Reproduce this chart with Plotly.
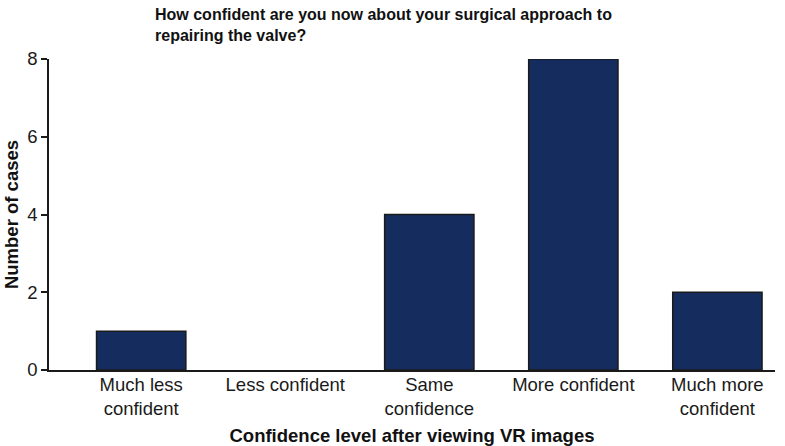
import plotly.graph_objects as go

categories = ["Much less<br>confident", "Less confident", "Same<br>confidence", "More confident", "Much more<br>confident"]
cases = [1, 0, 4, 8, 2]
y_ticks = [0, 2, 4, 6, 8]

fig = go.Figure(go.Bar(
    x=categories, y=cases,
    marker=dict(color="#142d5e",
                line=dict(color="#1a1a1a", width=[0 if v == 0 else 1.5 for v in cases])),
    width=0.62,
))

font = "Liberation Sans, Arial, Helvetica, sans-serif"
fig.update_layout(
    width=785, height=446,
    margin=dict(l=49, r=10, t=59, b=76),
    plot_bgcolor="white", paper_bgcolor="white",
    showlegend=False,
    font=dict(family=font, size=18.5, color="#1a1a1a"),
    annotations=[
        dict(text="<b>How confident are you now about your surgical approach to<br>repairing the valve?</b>",
             x=(153 - 49) / 726, xref="paper", xanchor="left", align="left",
             y=(370 - 4) / 311, yref="paper", yanchor="top", showarrow=False,
             font=dict(size=16, color="#111")),
    ],
)
fig.update_xaxes(
    range=[-0.64, 4.4], automargin=False,
    showline=True, linecolor="#1a1a1a", linewidth=1.5,
    ticks="", showgrid=False, ticklabelstandoff=-3,
    title=dict(text="<b>Confidence level after viewing VR images</b>", font=dict(size=18.5, color="#111"), standoff=11),
    tickfont=dict(size=18.5),
)
fig.update_yaxes(
    range=[0, 8], tickvals=y_ticks, automargin=False,
    showline=True, linecolor="#1a1a1a", linewidth=1.5,
    ticks="outside", ticklen=6, tickcolor="#1a1a1a", tickwidth=1.5,
    showgrid=False, zeroline=False,
    title=dict(text="<b>Number of cases</b>", font=dict(size=18.5, color="#111"), standoff=4),
    tickfont=dict(size=18.5),
)

fig.write_html("out.html", config={"displayModeBar": False},
               post_script="document.body.style.margin='0';")
